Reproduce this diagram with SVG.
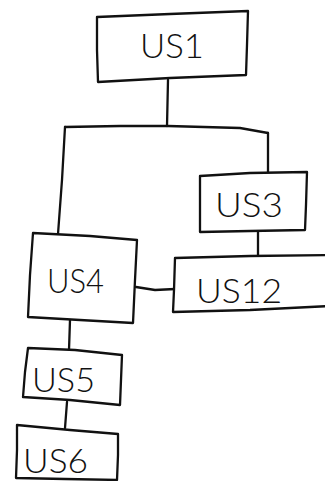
<svg xmlns="http://www.w3.org/2000/svg" width="325" height="481" viewBox="0 0 325 481">
<style>
.box{fill:#fff;stroke:#111;stroke-width:2.3;stroke-linejoin:round;stroke-linecap:round}
.ln{fill:none;stroke:#111;stroke-width:2.3;stroke-linejoin:round;stroke-linecap:round}
.t{font-family:"Lato","Liberation Sans","DejaVu Sans",sans-serif;font-weight:300;font-size:34px;fill:#111}
</style>
<rect width="325" height="481" fill="#fff"/>
<g id="connectors">
<path class="ln" d="M168,80 L167,126"/>
<path class="ln" d="M65,127 L120,126 L168,126 L240,128 L268,133"/>
<path class="ln" d="M65,127 L62,180 L58,234"/>
<path class="ln" d="M268,133 L268,173"/>
<path class="ln" d="M258,231 L258,257"/>
<path class="ln" d="M136,287 L155,290 L175,289"/>
<path class="ln" d="M70,320 L69,350"/>
<path class="ln" d="M67,402 L65,428"/>
</g>
<g id="US1">
<path class="box" d="M97,17 L170,14 L248,11 L247,45 L246,75 L170,78 L98,82 L97,50 Z"/>
<text class="t" x="140" y="58" textLength="64" lengthAdjust="spacingAndGlyphs">US1</text>
</g>
<g id="US3">
<path class="box" d="M200,176 L250,173 L307,172 L306,205 L305,230 L250,231 L200,232 L200,205 Z"/>
<text class="t" x="215" y="217" textLength="68" lengthAdjust="spacingAndGlyphs">US3</text>
</g>
<g id="US12">
<path class="box" d="M330,255 L250,256 L175,258 L174,290 L173,312 L250,310 L330,306 Z"/>
<text class="t" x="196" y="303" textLength="86" lengthAdjust="spacingAndGlyphs">US12</text>
</g>
<g id="US4">
<path class="box" d="M33,233 L90,236 L137,240 L135,280 L133,323 L80,320 L28,317 L30,275 Z"/>
<text class="t" x="47" y="293" textLength="57" lengthAdjust="spacingAndGlyphs">US4</text>
</g>
<g id="US5">
<path class="box" d="M28,348 L75,350 L122,355 L121,380 L120,405 L70,400 L23,397 L25,372 Z"/>
<text class="t" x="32" y="392" textLength="63" lengthAdjust="spacingAndGlyphs">US5</text>
</g>
<g id="US6">
<path class="box" d="M17,425 L70,430 L118,434 L118,455 L117,480 L65,479 L16,478 L17,450 Z"/>
<text class="t" x="23" y="473" textLength="65" lengthAdjust="spacingAndGlyphs">US6</text>
</g>
</svg>
